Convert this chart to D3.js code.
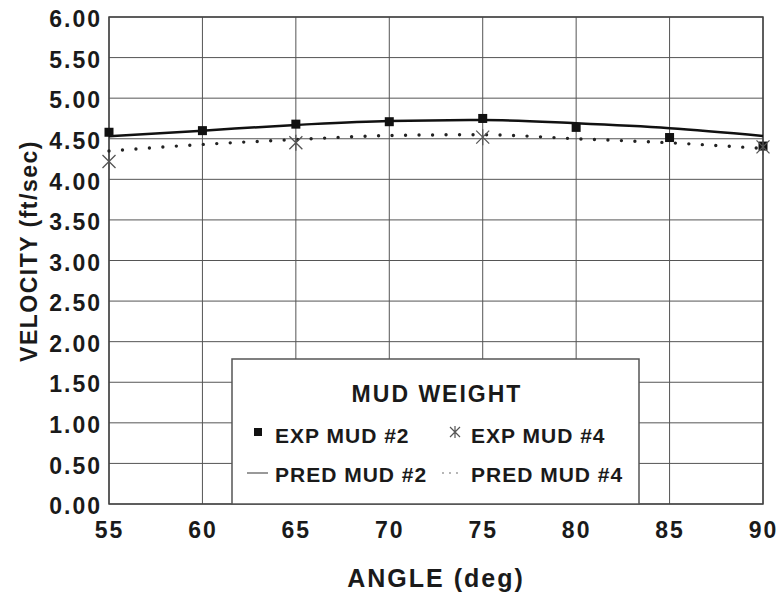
<!DOCTYPE html>
<html>
<head>
<meta charset="utf-8">
<script src="https://cdn.jsdelivr.net/npm/d3@7"></script>
<style>
  body { margin: 0; background: #fff; }
  text { font-family: "Liberation Sans", Arial, Helvetica, sans-serif; font-weight: bold; fill: #1a1a1a; }
</style>
</head>
<body>
<script>
var angles = [55, 60, 65, 70, 75, 80, 85, 90];
var expMud2 = [4.58, 4.60, 4.68, 4.71, 4.75, 4.64, 4.515, 4.41];
var predMud2 = [4.53, 4.60, 4.67, 4.72, 4.73, 4.69, 4.63, 4.535];
var predMud4 = [4.35, 4.43, 4.49, 4.54, 4.55, 4.50, 4.45, 4.38];
var exp4Angles = [55, 65, 75, 90];
var expMud4 = [4.22, 4.45, 4.52, 4.40];
var yTicks = [0, 0.5, 1, 1.5, 2, 2.5, 3, 3.5, 4, 4.5, 5, 5.5, 6];
var xTicks = [55, 60, 65, 70, 75, 80, 85, 90];

var width = 779;
var height = 594;
var plotLeft = 109, plotRight = 763, plotTop = 17, plotBottom = 504;

var svg = d3.select("body")
  .append("svg")
  .attr("width", width)
  .attr("height", height);

var xScale = d3.scaleLinear().domain([55, 90]).range([plotLeft, plotRight]);
var yScale = d3.scaleLinear().domain([0, 6]).range([plotBottom, plotTop]);

// grid
var grid = svg.append("g");
grid.selectAll("line.h")
  .data(yTicks)
  .enter()
  .append("line")
  .attr("x1", plotLeft).attr("x2", plotRight)
  .attr("y1", d => yScale(d)).attr("y2", d => yScale(d))
  .attr("stroke", "#555").attr("stroke-width", 1);
grid.selectAll("line.v")
  .data(xTicks)
  .enter()
  .append("line")
  .attr("y1", plotTop).attr("y2", plotBottom)
  .attr("x1", d => xScale(d)).attr("x2", d => xScale(d))
  .attr("stroke", "#555").attr("stroke-width", 1);

svg.append("rect")
  .attr("x", plotLeft).attr("y", plotTop)
  .attr("width", plotRight - plotLeft).attr("height", plotBottom - plotTop)
  .attr("fill", "none").attr("stroke", "#444").attr("stroke-width", 1.5);

// axes (labels only, lines come from the grid)
var yAxis = d3.axisLeft(yScale).tickValues(yTicks).tickFormat(d3.format(".2f")).tickSize(0).tickPadding(7);
var yg = svg.append("g").attr("transform", "translate(" + plotLeft + ",0)").call(yAxis);
yg.select(".domain").remove();
yg.selectAll("text")
  .style("font-size", "23px").style("letter-spacing", "2px")
  .attr("dy", "0.42em").attr("fill", "#1a1a1a");

var xAxis = d3.axisBottom(xScale).tickValues(xTicks).tickSize(0).tickPadding(18);
var xg = svg.append("g").attr("transform", "translate(0," + plotBottom + ")").call(xAxis);
xg.select(".domain").remove();
xg.selectAll("text")
  .style("font-size", "23px").style("letter-spacing", "2px")
  .attr("fill", "#1a1a1a");

// titles
svg.append("text")
  .attr("transform", "translate(37,251) rotate(-90)")
  .attr("text-anchor", "middle")
  .style("font-size", "23px").style("letter-spacing", "1.5px")
  .text("VELOCITY (ft/sec)");

svg.append("text")
  .attr("x", 436).attr("y", 587)
  .attr("text-anchor", "middle")
  .style("font-size", "25px").style("letter-spacing", "2px")
  .text("ANGLE (deg)");

// prediction curves
var line2 = d3.line()
  .x((d, i) => xScale(angles[i]))
  .y(d => yScale(d))
  .curve(d3.curveMonotoneX);

svg.append("path")
  .datum(predMud2)
  .attr("d", line2)
  .attr("fill", "none").attr("stroke", "#111").attr("stroke-width", 2.5);

svg.append("path")
  .datum(predMud4)
  .attr("d", line2)
  .attr("fill", "none").attr("stroke", "#222").attr("stroke-width", 3.4)
  .attr("stroke-linecap", "round")
  .attr("stroke-dasharray", "0 13.5");

// exp markers
svg.append("g").selectAll("rect")
  .data(expMud2)
  .enter()
  .append("rect")
  .attr("x", (d, i) => xScale(angles[i]) - 4.5)
  .attr("y", d => yScale(d) - 4.5)
  .attr("width", 9).attr("height", 9)
  .attr("fill", "#111");

var star = "M0,-8L0,8M-6.5,-6.5L6.5,6.5M-6.5,6.5L6.5,-6.5";
svg.append("g").selectAll("path")
  .data(expMud4)
  .enter()
  .append("path")
  .attr("transform", (d, i) => "translate(" + xScale(exp4Angles[i]) + "," + yScale(d) + ")")
  .attr("d", star)
  .attr("stroke", "#555").attr("stroke-width", 1.3).attr("fill", "none");

// legend
var lg = svg.append("g");
lg.append("rect")
  .attr("x", 232).attr("y", 359)
  .attr("width", 407).attr("height", plotBottom - 359)
  .attr("fill", "#fff").attr("stroke", "#555").attr("stroke-width", 1.5);
lg.append("text")
  .attr("x", 437).attr("y", 402)
  .attr("text-anchor", "middle")
  .style("font-size", "23px").style("letter-spacing", "2px")
  .text("MUD WEIGHT");

lg.append("rect").attr("x", 254).attr("y", 428).attr("width", 8).attr("height", 8).attr("fill", "#111");
lg.append("text").attr("x", 275).attr("y", 443).style("font-size", "21px").style("letter-spacing", "1px").text("EXP MUD #2");
lg.append("path").attr("transform", "translate(455,432)")
  .attr("d", "M0,-6L0,6M-5,-5L5,5M-5,5L5,-5")
  .attr("stroke", "#555").attr("stroke-width", 1.2).attr("fill", "none");
lg.append("text").attr("x", 471).attr("y", 443).style("font-size", "21px").style("letter-spacing", "1px").text("EXP MUD #4");

lg.append("line").attr("x1", 247).attr("x2", 268).attr("y1", 473).attr("y2", 473)
  .attr("stroke", "#555").attr("stroke-width", 1.2);
lg.append("text").attr("x", 275).attr("y", 482).style("font-size", "21px").style("letter-spacing", "1px").text("PRED MUD #2");
lg.append("line").attr("x1", 443).attr("x2", 463).attr("y1", 473).attr("y2", 473)
  .attr("stroke", "#555").attr("stroke-width", 1.6)
  .attr("stroke-linecap", "round").attr("stroke-dasharray", "0 7");
lg.append("text").attr("x", 471).attr("y", 482).style("font-size", "21px").style("letter-spacing", "1px").text("PRED MUD #4");
</script>
</body>
</html>
